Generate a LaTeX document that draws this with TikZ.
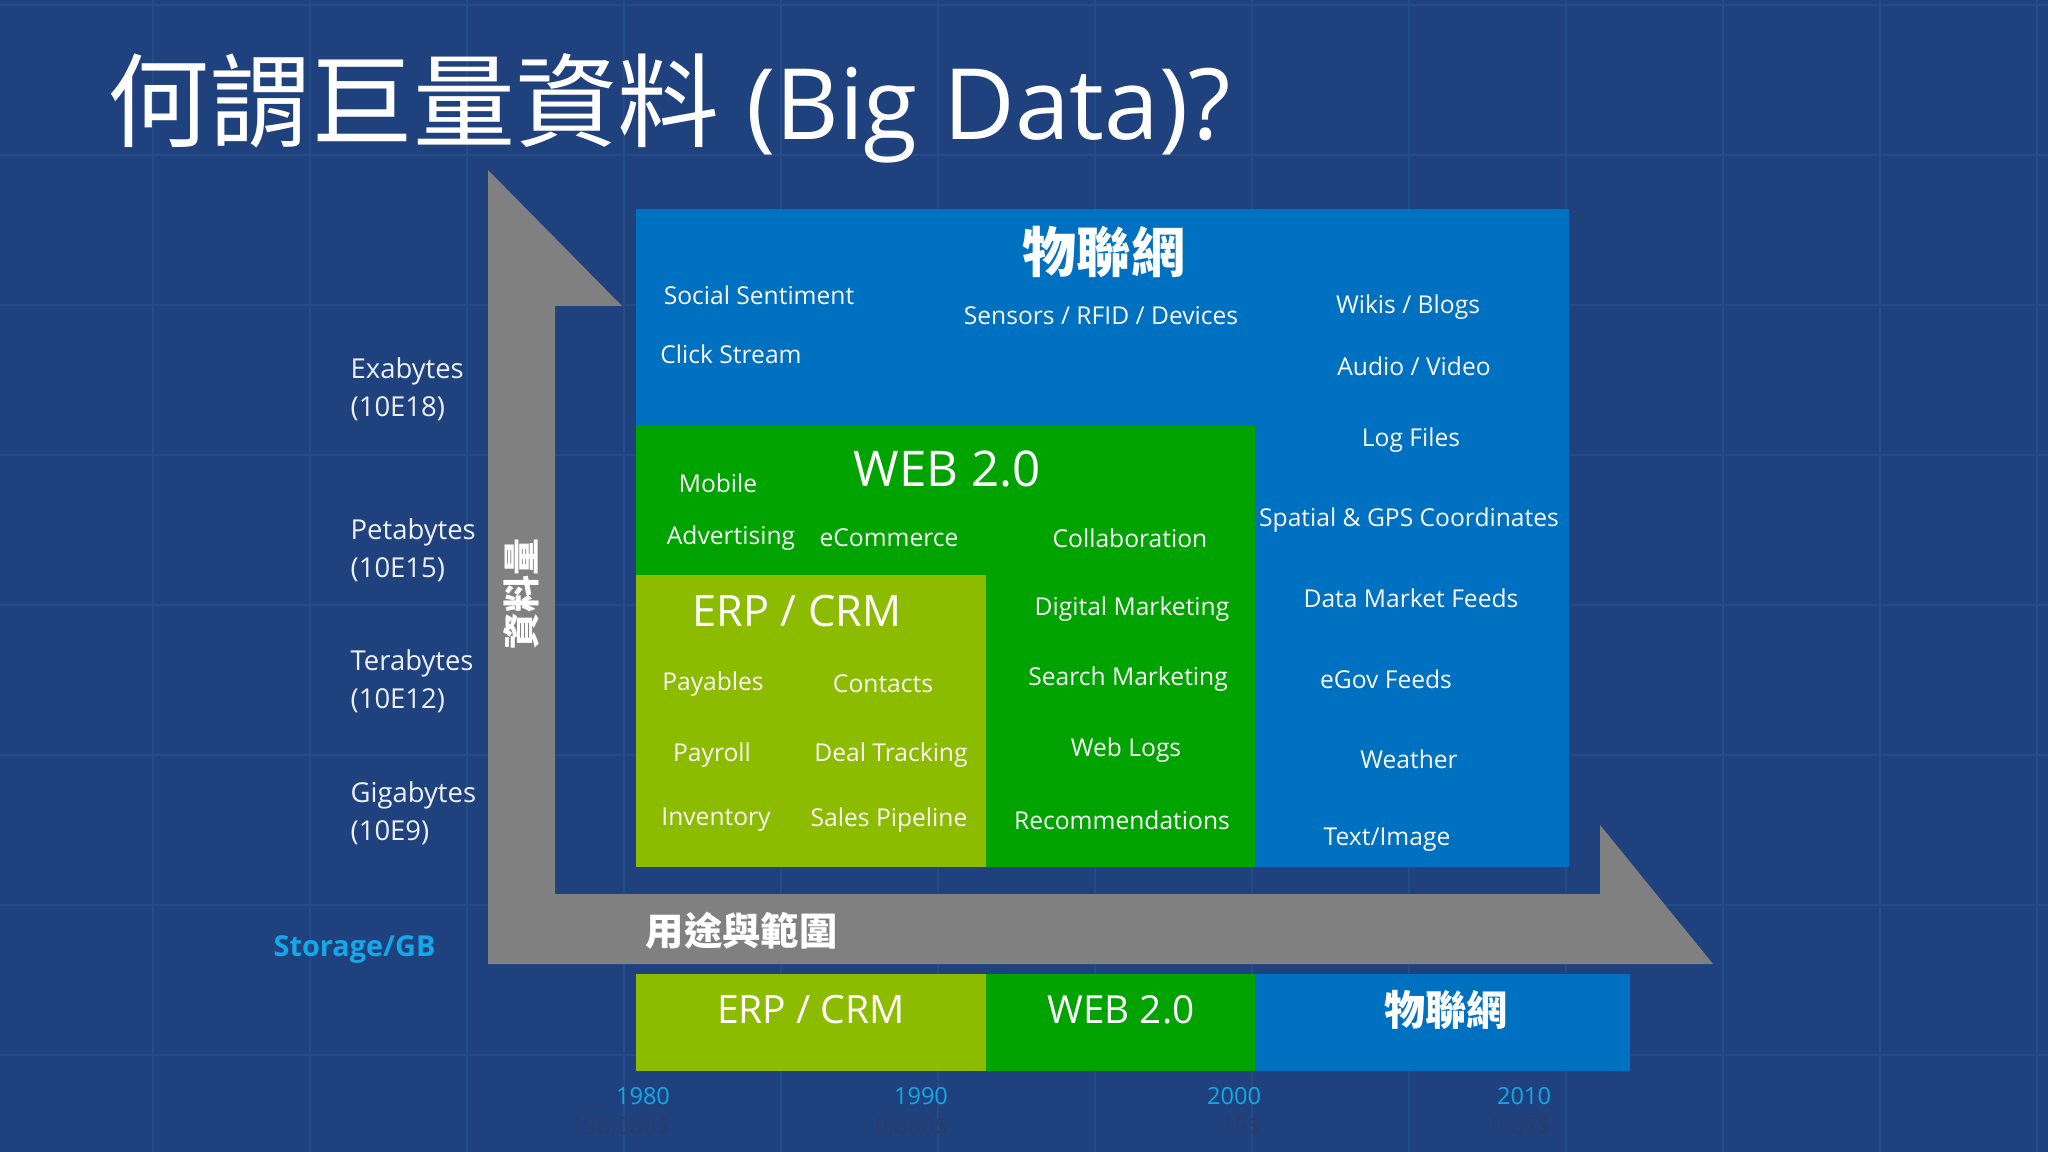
\documentclass[tikz,border=0pt]{standalone}
\usepackage{fontspec}
\usetikzlibrary{positioning}
\setmainfont{Open Sans}
\newfontfamily\cjk{Noto Sans CJK TC}
\definecolor{bgblue}{HTML}{1F427E}
\definecolor{gridblue}{HTML}{224B87}
\definecolor{iotblue}{HTML}{0070C0}
\definecolor{webgreen}{HTML}{00A300}
\definecolor{erpgreen}{HTML}{8CBB00}
\definecolor{arrowgray}{HTML}{808080}
\definecolor{yearcyan}{HTML}{15A8E8}
\definecolor{costgray}{HTML}{2A3D68}
\tikzset{
  lbl/.style={text=white!95!gray, inner sep=0pt, font=\fontsize{7}{8.4}\selectfont},
  sizelbl/.style={text=white!92!bgblue, anchor=west, inner sep=0pt, font=\fontsize{7.8}{9.4}\selectfont},
  yearlbl/.style={text=yearcyan, inner sep=0pt, font=\fontsize{6.7}{8}\selectfont},
  costlbl/.style={text=costgray, inner sep=0pt, font=\fontsize{6.7}{8}\selectfont},
  cjkhead/.style={text=white, inner sep=0pt, font=\cjk\bfseries\fontsize{#1}{#1}\selectfont},
  head/.style={text=white, inner sep=0pt, font=\fontsize{#1}{#1}\selectfont}
}
\begin{document}
\begin{tikzpicture}[x=0.01cm,y=-0.01cm]
  \useasboundingbox (0,0) rectangle (2048,1152);
  \fill[bgblue] (0,0) rectangle (2048,1152);
  % faint background grid
  \foreach \x in {153,310,...,2037} {
    \draw[gridblue, line width=0.5pt] (\x,0) -- (\x,1152);
  }
  \foreach \y in {5,155,...,1105} {
    \draw[gridblue, line width=0.5pt] (0,\y) -- (2048,\y);
  }

  \node[anchor=base west, text=white, inner sep=0pt, font=\fontsize{29}{30}\selectfont] (title) at (107,140)
    {{\cjk 何謂巨量資料} {\fontsize{28}{30}\selectfont(Big Data)?}};

  % bent arrow: volume up, scope to the right
  \fill[arrowgray] (488,170) -- (622,306) -- (555,306) -- (555,894) -- (1600,894)
    -- (1600,825) -- (1713,964) -- (488,964) -- cycle;
  \node[cjkhead=10.5, rotate=90] (volume) at (521,594) {資料量};
  \node[cjkhead=10.9, anchor=west] (scope) at (645,931) {用途與範圍};

  % nested areas
  \fill[iotblue] (636,209) rectangle (1569,867);
  \fill[webgreen] (636,426) rectangle (1255,867);
  \fill[erpgreen] (636,575) rectangle (986,867);

  \node[cjkhead=15.4] (iothead) at (1104,252) {物聯網};
  \node[head=14] (webhead) at (947,469) {WEB 2.0};
  \node[head=12.3] (erphead) at (797,611) {ERP / CRM};

  \foreach \x/\y/\txt [count=\i] in {759/295/{Social Sentiment}, 731/354/{Click Stream},
      1101/316/{Sensors / RFID / Devices}, 1408/307/{Wikis / Blogs}, 1414/366/{Audio / Video},
      1411/440/{Log Files}, 1409/520/{Spatial \& GPS Coordinates}, 1411/598/{Data Market Feeds},
      1386/679/{eGov Feeds}, 1409/759/{Weather}, 1387/840/{Text/Image}} {
    \node[lbl] (iot\i) at (\x,\y) {\txt};
  }
  \foreach \x/\y/\txt [count=\i] in {718/483/{Mobile}, 731/538/{Advertising}, 889/538/{eCommerce},
      1130/538/{Collaboration}, 1132/609/{Digital Marketing}, 1128/679/{Search Marketing},
      1126/750/{Web Logs}, 1122/820/{Recommendations}} {
    \node[lbl] (web\i) at (\x,\y) {\txt};
  }
  \foreach \x/\y/\txt [count=\i] in {713/684/{Payables}, 883/684/{Contacts}, 712/755/{Payroll},
      891/755/{Deal Tracking}, 716/820/{Inventory}, 889/820/{Sales Pipeline}} {
    \node[lbl] (erp\i) at (\x,\y) {\txt};
  }

  % storage scale
  \foreach \n/\u/\y in {Exabytes/10E18/371, Petabytes/10E15/532, Terabytes/10E12/663, Gigabytes/10E9/795} {
    \node[sizelbl] (\n) at (350,\y) {\n};
    \node[sizelbl] (\n-exp) at (350,\y+38) {(\u)};
  }
  \node[anchor=west, text=yearcyan, inner sep=0pt, font=\bfseries\fontsize{8.2}{10}\selectfont] (storage) at (273,950) {Storage/GB};

  % timeline bar
  \fill[erpgreen] (636,974) rectangle (986,1071);
  \fill[webgreen] (986,974) rectangle (1255,1071);
  \fill[iotblue] (1255,974) rectangle (1630,1071);
  \node[head=11.1] (erpbar) at (811,1010) {ERP / CRM};
  \node[head=11] (webbar) at (1121,1010) {WEB 2.0};
  \node[cjkhead=11.7] (iotbar) at (1446,1010) {物聯網};

  \foreach \x/\yr/\c in {643/1980/{190,000\$}, 921/1990/{9,000\$}, 1234/2000/{15\$}, 1524/2010/{0.07\$}} {
    \node[yearlbl] (y\yr) at (\x,1096) {\yr};
    \node[costlbl, below=3pt of y\yr.south east, anchor=north east] (c\yr) {\c};
  }
\end{tikzpicture}
\end{document}
